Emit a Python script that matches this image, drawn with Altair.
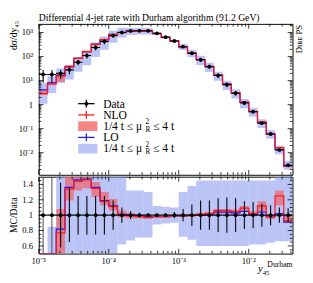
import altair as alt
import pandas as pd

FONT = "Liberation Serif"

# ---- bin edges (log10 of y45), 8 bins per decade ----
EDGE_EXP = [-5.0, -4.875, -4.75, -4.625, -4.5, -4.375, -4.25, -4.125, -4.0,
            -3.875, -3.75, -3.625, -3.5, -3.375, -3.25, -3.125, -3.0,
            -2.875, -2.75, -2.625, -2.5, -2.375, -2.25, -2.125, -2.0,
            -1.875, -1.75, -1.625, -1.5, -1.375]

# ---- data (main panel) ----
DATA = [18, 18, 20, 28, 58, 110, 240, 430, 745, 1000,
        1170, 1180, 1180, 930, 640, 445, 258, 138, 74, 38,
        16.3, 6.8, 3.0, 1.18, 0.51, 0.17, 0.06, 0.013, 0.003]
DATA_ERR = [0.55, 0.55, 0.42, 0.35, 0.25, 0.25, 0.25, 0.25, 0.19, 0.1,
            0.05, 0.03, 0.02, 0.02, 0.025, 0.04, 0.08, 0.14, 0.19, 0.19,
            0.22, 0.23, 0.22, 0.18, 0.17, 0.15, 0.13, 0.1, 0.09]

# ---- MC / Data ratios (ratio panel) ----
NLO_RATIO = [0.16, 0.41, 0.77, 1.34, 1.44, 1.46, 1.35, 1.18, 1.11, 1.0,
             0.99, 0.98, 0.97, 0.98, 0.98, 0.99, 0.99, 1.0, 1.01, 1.02,
             1.06, 1.06, 1.05, 1.09, 1.02, 1.12, 0.98, 1.25, 0.93]
LO_RATIO = [0.23, 0.45, 0.82, 1.36, 1.46, 1.47, 1.36, 1.19, 1.12, 1.01,
            1.0, 0.99, 0.98, 0.98, 0.98, 0.99, 0.99, 1.0, 1.0, 1.01,
            1.04, 1.04, 1.03, 1.05, 1.01, 1.04, 0.98, 1.02, 0.91]
NLO_LOW = [0.14, 0.36, 0.45, 1.19, 1.32, 1.35, 1.24, 1.13, 1.06, 0.97,
           0.96, 0.96, 0.95, 0.97, 0.97, 0.98, 0.98, 0.98, 0.99, 1.0,
           1.02, 1.02, 1.01, 1.04, 0.99, 1.05, 0.95, 1.13, 0.9]
NLO_HIGH = [0.21, 0.5, 1.08, 1.6, 1.6, 1.6, 1.43, 1.3, 1.21, 1.06,
            1.03, 1.01, 0.99, 0.99, 0.99, 1.0, 1.0, 1.01, 1.03, 1.04,
            1.08, 1.08, 1.07, 1.12, 1.05, 1.18, 1.0, 1.32, 1.0]
LO_LOW = [0.06, 0.17, 0.4, 0.4, 0.4, 0.4, 0.4, 0.45, 0.5, 0.62,
          0.67, 0.71, 0.71, 0.88, 0.89, 0.9, 0.72, 0.68, 0.6, 0.6,
          0.6, 0.6, 0.6, 0.6, 0.62, 0.62, 0.64, 0.66, 0.66]
LO_HIGH = [0.43, 0.85, 1.6, 1.6, 1.6, 1.6, 1.6, 1.6, 1.6, 1.6,
           1.32, 1.32, 1.3, 1.12, 1.11, 1.1, 1.3, 1.38, 1.45, 1.45,
           1.45, 1.45, 1.45, 1.45, 1.45, 1.45, 1.45, 1.55, 1.55]

# ---- axes ----
X_MAJOR = [1e-5, 1e-4, 1e-3, 1e-2]
X_LABELS = ["10⁻⁵", "10⁻⁴", "10⁻³", "10⁻²"]
Y_MAJOR = [1e-2, 1e-1, 1.0, 10.0, 100.0, 1000.0]
Y_LABELS = ["10⁻²", "10⁻¹", "1", "10¹", "10²", "10³"]
R_MAJOR = [0.6, 0.8, 1.0, 1.2, 1.4]
R_LABELS = ["0.6", "0.8", "1", "1.2", "1.4"]
R_MINOR = [0.55, 0.65, 0.7, 0.75, 0.85, 0.9, 0.95, 1.05, 1.1, 1.15, 1.25, 1.3, 1.35, 1.45]
MINOR_MULT = [2, 3, 4, 5, 6, 7, 8, 9]

TITLE = "Differential 4-jet rate with Durham algorithm (91.2 GeV)"

W, HM, HR = 264, 157, 80
X_DOM = [10 ** EDGE_EXP[0], 10 ** EDGE_EXP[-1]]
YM_DOM = [10 ** -2.92, 10 ** 3.36]
R_DOM = [0.5, 1.5]

RED = "#ff1a1a"
BLUE = "#1a1aff"
HATCH = "#8494ef"
REDBAND = "#f25c5c"

n = len(DATA)
lo = [10 ** EDGE_EXP[i] for i in range(n)]
hi = [10 ** EDGE_EXP[i + 1] for i in range(n)]
ctr = [10 ** ((EDGE_EXP[i] + EDGE_EXP[i + 1]) / 2) for i in range(n)]

bins = pd.DataFrame({
    "lo": lo, "hi": hi, "c": ctr,
    "d": DATA,
    "d_lo": [DATA[i] * (1 - DATA_ERR[i]) for i in range(n)],
    "d_hi": [DATA[i] * (1 + DATA_ERR[i]) for i in range(n)],
    "r_lo": [1 - e for e in DATA_ERR],
    "r_hi": [1 + e for e in DATA_ERR],
    "one": [1.0] * n,
    "ecol": ["#555555" if e >= 0.5 else "black" for e in DATA_ERR],
    "nb_lo_m": [DATA[i] * NLO_LOW[i] for i in range(n)],
    "nb_hi_m": [DATA[i] * NLO_HIGH[i] for i in range(n)],
    "lb_lo_m": [DATA[i] * LO_LOW[i] for i in range(n)],
    "lb_hi_m": [DATA[i] * LO_HIGH[i] for i in range(n)],
    "nb_lo_r": NLO_LOW, "nb_hi_r": NLO_HIGH,
    "lb_lo_r": LO_LOW, "lb_hi_r": LO_HIGH,
})

rows = []
for i in range(n):
    for j, xe in enumerate((lo[i], hi[i])):
        rows.append({"x": xe, "o": 2 * i + j,
                     "nlo_m": DATA[i] * NLO_RATIO[i], "lo_m": DATA[i] * LO_RATIO[i],
                     "nlo_r": NLO_RATIO[i], "lo_r": LO_RATIO[i]})
path = pd.DataFrame(rows)

xs = alt.Scale(type="log", domain=X_DOM, nice=False)
ys = alt.Scale(type="log", domain=YM_DOM, nice=False, clamp=True)
rs = alt.Scale(domain=R_DOM, nice=False, zero=False, clamp=True)


def X(f):
    return alt.X(f, type="quantitative", scale=xs, axis=None)


def Y(f, s):
    return alt.Y(f, type="quantitative", scale=s, axis=None)


def txt(s, x, y, size=12, align="left", baseline="middle", style="normal", angle=None):
    kw = dict(align=align, baseline=baseline, font=FONT, fontSize=size, fontStyle=style,
              color="black")
    if angle is not None:
        kw["angle"] = angle
    return alt.Chart(pd.DataFrame({"t": [s]})).mark_text(**kw).encode(
        x=alt.value(x), y=alt.value(y), text="t:N")


ONE = pd.DataFrame({"a": [0]})


def hseg(x1, x2, y, color, sw=1.3):
    return alt.Chart(ONE).mark_rule(color=color, strokeWidth=sw).encode(
        x=alt.value(x1), x2=alt.value(x2), y=alt.value(y))


def vseg(x, y1, y2, color, sw=1.3):
    return alt.Chart(ONE).mark_rule(color=color, strokeWidth=sw).encode(
        x=alt.value(x), y=alt.value(y1), y2=alt.value(y2))


def box(x1, x2, y1, y2, fill, op):
    return alt.Chart(ONE).mark_rect(fill=fill, opacity=op).encode(
        x=alt.value(x1), x2=alt.value(x2), y=alt.value(y1), y2=alt.value(y2))


def x_ticks(H):
    major = [v for v in X_MAJOR if X_DOM[0] <= v <= X_DOM[1]]
    minor = [m * v for v in X_MAJOR for m in MINOR_MULT if X_DOM[0] < m * v < X_DOM[1]]
    out = []
    for vals, L in ((major, 5), (minor, 2.8)):
        base = alt.Chart(pd.DataFrame({"v": vals})).mark_rule(color="black", strokeWidth=0.8)
        out.append(base.encode(x=X("v"), y=alt.value(0), y2=alt.value(L)))
        out.append(base.encode(x=X("v"), y=alt.value(H - L), y2=alt.value(H)))
    return out


def y_ticks(major, minor, scale):
    out = []
    for vals, L in ((major, 5), (minor, 2.8)):
        base = alt.Chart(pd.DataFrame({"v": vals})).mark_rule(color="black", strokeWidth=0.8)
        out.append(base.encode(y=Y("v", scale), x=alt.value(0), x2=alt.value(L)))
        out.append(base.encode(y=Y("v", scale), x=alt.value(W - L), x2=alt.value(W)))
    return out


def y_labels(vals, labels, scale):
    df = pd.DataFrame({"v": vals, "t": labels})
    return alt.Chart(df).mark_text(align="right", baseline="middle", font=FONT,
                                   fontSize=9, color="black").encode(
        y=Y("v", scale), x=alt.value(-6), text="t:N")


# ---------------- main panel ----------------
ym_major = [v for v in Y_MAJOR if YM_DOM[0] < v < YM_DOM[1]]
ym_minor = [m * v for v in [1e-3] + Y_MAJOR for m in MINOR_MULT if YM_DOM[0] < m * v < YM_DOM[1]]

m_lo_band = alt.Chart(bins).mark_rect(fill=HATCH, opacity=0.55, clip=True).encode(
    x=X("lo"), x2="hi", y=Y("lb_lo_m", ys), y2="lb_hi_m:Q")
m_nlo_band = alt.Chart(bins).mark_rect(fill=REDBAND, opacity=0.65, clip=True).encode(
    x=X("lo"), x2="hi", y=Y("nb_lo_m", ys), y2="nb_hi_m:Q")
m_lo_line = alt.Chart(path).mark_line(color=BLUE, strokeWidth=1.3, clip=True).encode(
    x=X("x"), y=Y("lo_m", ys), order="o:Q")
m_nlo_line = alt.Chart(path).mark_line(color=RED, strokeWidth=1.3, clip=True).encode(
    x=X("x"), y=Y("nlo_m", ys), order="o:Q")
m_xbar = alt.Chart(bins).mark_rule(color="black", strokeWidth=1.1, clip=True).encode(
    x=X("lo"), x2="hi", y=Y("d", ys))
m_ybar = alt.Chart(bins).mark_rule(color="black", strokeWidth=1.1, clip=True).encode(
    x=X("c"), y=Y("d_lo", ys), y2="d_hi:Q")
m_pts = alt.Chart(bins).mark_circle(color="black", opacity=1, size=16, clip=True).encode(
    x=X("c"), y=Y("d", ys))

# legend (positions in plot pixels)
LX1, LX2, LXC, LT = 41, 58, 49.5, 67
R1, R2, R3, R4, R5 = 83, 94.7, 106.4, 118.1, 129.8
legend = [
    hseg(LX1, LX2, R1, "black"), vseg(LXC, R1 - 4, R1 + 4, "black"),
    alt.Chart(ONE).mark_circle(color="black", opacity=1, size=16).encode(
        x=alt.value(LXC), y=alt.value(R1)),
    txt("Data", LT, R1),
    hseg(LX1, LX2, R2, RED), vseg(LXC, R2 - 4, R2 + 4, RED),
    txt("NLO", LT, R2),
    box(LX1, 61, R3 - 5, R3 + 5, REDBAND, 0.75),
    hseg(LX1, LX2, R4, BLUE), vseg(LXC, R4 - 4, R4 + 4, BLUE),
    txt("LO", LT, R4),
    box(LX1, 61, R5 - 5, R5 + 5, HATCH, 0.55),
]
for ry in (R3, R5):
    legend += [
        txt("1/4 t ≤ μ", LT, ry),
        txt("2", LT + 44, ry - 4, size=7.5),
        txt("R", LT + 44, ry + 4, size=7.5),
        txt("≤ 4 t", LT + 52, ry),
    ]

title = txt(TITLE, 0, -2.5, size=10, baseline="alphabetic")
side = txt("Dɪʀᴇ PS", W + 3, 1, size=9, align="right", baseline="top", angle=270)
ytitle_m = txt("dσ/dy₄₅", -21, -3, size=10, align="right", baseline="bottom", angle=270)

main = alt.layer(
    m_lo_band, m_nlo_band, m_lo_line, m_nlo_line, m_xbar, m_ybar, m_pts,
    *x_ticks(HM), *y_ticks(ym_major, ym_minor, ys),
    y_labels(Y_MAJOR, Y_LABELS, ys),
    *legend, title, side, ytitle_m,
).properties(width=W, height=HM)

# ---------------- ratio panel ----------------
r_lo_band = alt.Chart(bins).mark_rect(fill=HATCH, opacity=0.55, clip=True).encode(
    x=X("lo"), x2="hi", y=Y("lb_lo_r", rs), y2="lb_hi_r:Q")
r_nlo_band = alt.Chart(bins).mark_rect(fill=REDBAND, opacity=0.65, clip=True).encode(
    x=X("lo"), x2="hi", y=Y("nb_lo_r", rs), y2="nb_hi_r:Q")
r_lo_line = alt.Chart(path).mark_line(color=BLUE, strokeWidth=1.3, clip=True).encode(
    x=X("x"), y=Y("lo_r", rs), order="o:Q")
r_nlo_line = alt.Chart(path).mark_line(color=RED, strokeWidth=1.3, clip=True).encode(
    x=X("x"), y=Y("nlo_r", rs), order="o:Q")
r_xbar = alt.Chart(bins).mark_rule(color="black", strokeWidth=1.4, clip=True).encode(
    x=X("lo"), x2="hi", y=Y("one", rs))
r_ybar = alt.Chart(bins).mark_rule(strokeWidth=1.1, clip=True).encode(
    x=X("c"), y=Y("r_lo", rs), y2="r_hi:Q",
    color=alt.Color("ecol:N", scale=None))
r_pts = alt.Chart(bins).mark_circle(color="black", opacity=1, size=16, clip=True).encode(
    x=X("c"), y=Y("one", rs))

x_labels = alt.Chart(pd.DataFrame({"v": X_MAJOR, "t": X_LABELS})).mark_text(
    align="center", baseline="top", font=FONT, fontSize=9, color="black").encode(
    x=X("v"), y=alt.value(HR + 4), text="t:N")

xtitle = [
    txt("y", W - 36, HR + 19, size=11, style="italic", baseline="alphabetic"),
    txt("45", W - 31, HR + 22, size=7, baseline="alphabetic"),
    txt("Durham", W, HR + 14, size=8, align="right", baseline="alphabetic"),
]
ytitle_r = txt("MC/Data", -21, HR / 2, size=10, align="center", baseline="bottom", angle=270)

ratio = alt.layer(
    r_lo_band, r_nlo_band, r_lo_line, r_nlo_line, r_xbar, r_ybar, r_pts,
    *x_ticks(HR), *y_ticks(R_MAJOR, R_MINOR, rs),
    y_labels(R_MAJOR, R_LABELS, rs), x_labels, *xtitle, ytitle_r,
).properties(width=W, height=HR)

chart = alt.vconcat(main, ratio, spacing=0).properties(
    padding={"left": 0, "top": 0, "right": 0, "bottom": 0}
).configure_view(stroke="black", strokeWidth=1)

chart.save("out.html", embed_options={"renderer": "svg", "actions": False})
